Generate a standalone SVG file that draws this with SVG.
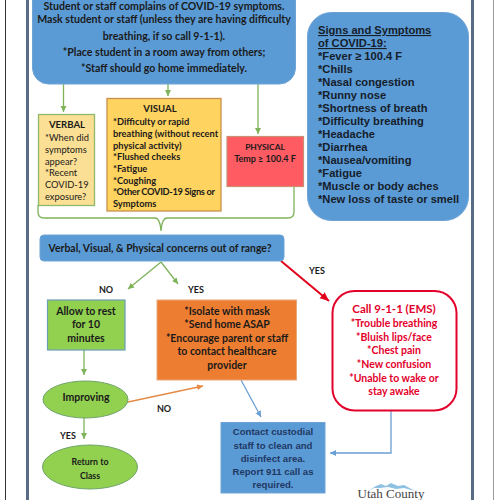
<svg xmlns="http://www.w3.org/2000/svg" width="500" height="500" viewBox="0 0 500 500">
<style>
text{font-family:Lato,"Liberation Sans",sans-serif;font-weight:700;fill:#1a1a1a;text-anchor:middle}
.a{font-family:"Liberation Sans",Arial,sans-serif;text-anchor:start;font-size:11.15px;fill:#15202b}
.t{font-size:10.6px}.s{font-size:9.3px;text-anchor:start}.v{font-weight:400}.m{font-size:10.5px}.h{font-size:9.6px}.y{font-size:9px}
.n{font-family:"Liberation Sans",Arial,sans-serif;font-size:9.6px;fill:#1f3864}
.r{fill:#e3002b;font-size:10.5px}
.c{fill:none}.g{stroke:#7fb35a;stroke-width:1.3}.o{stroke:#e58a45;stroke-width:1.3}.b{stroke:#6a9fd3;stroke-width:1.3}.e{stroke:#e3001b;stroke-width:2}
</style>
<defs>
<marker id="mg" markerUnits="userSpaceOnUse" markerWidth="7" markerHeight="7" refX="6" refY="3" orient="auto"><path d="M0 0L6 3L0 6z" fill="#7fb35a"/></marker>
<marker id="mo" markerUnits="userSpaceOnUse" markerWidth="7" markerHeight="7" refX="6" refY="3" orient="auto"><path d="M0 0L6 3L0 6z" fill="#e58a45"/></marker>
<marker id="mb" markerUnits="userSpaceOnUse" markerWidth="7" markerHeight="7" refX="6" refY="3" orient="auto"><path d="M0 0L6 3L0 6z" fill="#6a9fd3"/></marker>
<marker id="mr" markerUnits="userSpaceOnUse" markerWidth="10" markerHeight="9" refX="9" refY="4" orient="auto"><path d="M0 0L9 4L0 8z" fill="#e3001b"/></marker>
</defs>
<rect width="500" height="500" fill="#fff"/>
<g id="page">
<path d="M5.500 0V500" stroke="#333" stroke-width="1" fill="none"/>
<path d="M27.500 0V500" stroke="#5a6b85" stroke-width="3" fill="none"/>
<path d="M472.500 0V500" stroke="#5a6b85" stroke-width="3" fill="none"/>
<path d="M493.500 0V500" stroke="#999" stroke-width="1" fill="none"/>
</g>
<g id="connectors">
<path class="c g" marker-end="url(#mg)" d="M63.500 84V112"/>
<path class="c g" marker-end="url(#mg)" d="M168 84V96"/>
<path class="c g" marker-end="url(#mg)" d="M258 84V134"/>
<path class="c g" d="M38 205V212Q38 218 44 218H155Q160 218 161 231Q162 218 167 218H288Q294 218 294 212V187"/>
<path class="c g" marker-end="url(#mg)" d="M161 262L128 289"/>
<path class="c g" marker-end="url(#mg)" d="M161 262L178 284"/>
<path class="c g" marker-end="url(#mg)" d="M84 350V375"/>
<path class="c g" marker-end="url(#mg)" d="M84 418V439"/>
<path class="c o" marker-end="url(#mo)" d="M128 402L203 386"/>
<path class="c b" marker-end="url(#mb)" d="M241 380L261 417"/>
<path class="c b" marker-end="url(#mb)" d="M391 411V453H330"/>
<path class="c e" marker-end="url(#mr)" d="M281 261L329 301"/>
</g>
<g id="start"><rect x="32.500" y="-30" width="263" height="114" rx="16" fill="#5b9bd5" stroke="#6fa3d6"/>
<text class="t" x="164" y="9.500">Student or staff complains of COVID-19 symptoms.</text>
<text class="t" x="164" y="23">Mask student or staff (unless they are having difficulty</text>
<text class="t" x="164" y="39.500">breathing, if so call 9-1-1).</text>
<text class="t" x="164" y="56">*Place student in a room away from others;</text>
<text class="t" x="164" y="72">*Staff should go home immediately.</text></g>
<g id="signs"><rect x="307.500" y="12.500" width="161" height="208" rx="24" fill="#5b9bd5" stroke="#6fa3d6"/>
<text class="a" x="318" y="34" text-decoration="underline">Signs and Symptoms</text>
<text class="a" x="318" y="47" text-decoration="underline">of COVID-19:</text>
<text class="a" x="318" y="60">*Fever ≥ 100.4 F</text>
<text class="a" x="318" y="73">*Chills</text>
<text class="a" x="318" y="86">*Nasal congestion</text>
<text class="a" x="318" y="99">*Runny nose</text>
<text class="a" x="318" y="112">*Shortness of breath</text>
<text class="a" x="318" y="125">*Difficulty breathing</text>
<text class="a" x="318" y="138">*Headache</text>
<text class="a" x="318" y="151">*Diarrhea</text>
<text class="a" x="318" y="164">*Nausea/vomiting</text>
<text class="a" x="318" y="177">*Fatigue</text>
<text class="a" x="318" y="190">*Muscle or body aches</text>
<text class="a" x="318" y="203">*New loss of taste or smell</text></g>
<g id="verbal"><rect x="38.500" y="114.500" width="56" height="91" fill="#fbdf94" stroke="#8fbb68" stroke-width="1.300"/>
<text class="h" x="67" y="128">VERBAL</text>
<text class="s v" x="45" y="141">*When did</text>
<text class="s v" x="45" y="152.500">symptoms</text>
<text class="s v" x="45" y="164.500">appear?</text>
<text class="s v" x="45" y="176">*Recent</text>
<text class="s v" x="45" y="187.500">COVID-19</text>
<text class="s v" x="45" y="199.500">exposure?</text></g>
<g id="visual"><rect x="107" y="98.500" width="114" height="112.500" fill="#ffd35f" stroke="#c98f4b" stroke-width="1.300"/>
<text class="h" x="160" y="112">VISUAL</text>
<text class="s" x="113" y="125">*Difficulty or rapid</text>
<text class="s" x="113" y="136.500">breathing (without recent</text>
<text class="s" x="113" y="148.500">physical activity)</text>
<text class="s" x="113" y="160">*Flushed cheeks</text>
<text class="s" x="113" y="171.500">*Fatigue</text>
<text class="s" x="113" y="183.500">*Coughing</text>
<text class="s" x="113" y="195" textLength="102">*Other COVID-19 Signs or</text>
<text class="s" x="113" y="207">Symptoms</text></g>
<g id="physical"><rect x="227" y="136.500" width="76.500" height="50" fill="#ff5b63" stroke="#c98f70" stroke-width="1.200"/>
<text x="265" y="149.500" font-size="8.400">PHYSICAL</text>
<text x="265" y="161.500" font-size="9">Temp ≥ 100.4 F</text></g>
<g id="question"><rect x="40" y="235" width="244" height="26" rx="4" fill="#5b9bd5" stroke="#6fa3d6"/>
<text x="160" y="251.500" font-size="10.450">Verbal, Visual, &amp; Physical concerns out of range?</text></g>
<text class="y" x="106" y="292.500">NO</text>
<text class="y" x="196" y="292.500">YES</text>
<text class="y" x="317" y="274">YES</text>
<text class="y" x="164" y="412">NO</text>
<text class="y" x="68" y="439">YES</text>
<g id="rest"><rect x="47.500" y="300" width="77.500" height="50" fill="#92d050" stroke="#6a9fb5" stroke-width="1.200"/>
<text class="m" x="86" y="314.500">Allow to rest</text>
<text class="m" x="86" y="328">for 10</text>
<text class="m" x="86" y="341.500">minutes</text></g>
<g id="isolate"><rect x="157" y="300" width="139.500" height="80" fill="#ed7d31" stroke="#e9a77c"/>
<text class="m" x="227" y="314.500">*Isolate with mask</text>
<text class="m" x="227" y="328">*Send home ASAP</text>
<text class="m" x="227" y="341.500">*Encourage parent or staff</text>
<text class="m" x="227" y="355">to contact healthcare</text>
<text class="m" x="227" y="369">provider</text></g>
<g id="improving"><ellipse cx="85.500" cy="399.500" rx="42.500" ry="18.500" fill="#92d050" stroke="#6fa36a"/>
<text class="m" x="86" y="401">Improving</text></g>
<g id="return"><ellipse cx="90" cy="467" rx="47.500" ry="22" fill="#92d050" stroke="#6fa36a"/>
<text x="90" y="464.500" font-size="8.800">Return to</text>
<text x="90" y="478.500" font-size="8.800">Class</text></g>
<g id="contact"><rect x="221" y="422.500" width="104" height="70.500" fill="#5b9bd5" stroke="#6fa3d6"/>
<text class="n" x="273" y="435">Contact custodial</text>
<text class="n" x="273" y="448.500">staff to clean and</text>
<text class="n" x="273" y="461.500">disinfect area.</text>
<text class="n" x="273" y="475">Report 911 call as</text>
<text class="n" x="273" y="488">required.</text></g>
<g id="call911"><rect x="332.500" y="291" width="124" height="119.500" rx="22" fill="#fff" stroke="#e3002b" stroke-width="2"/>
<text class="r" x="394" y="313" style="font-size:11.500px">Call 9-1-1 (EMS)</text>
<text class="r" x="394" y="327">*Trouble breathing</text>
<text class="r" x="394" y="340.500">*Bluish lips/face</text>
<text class="r" x="394" y="354">*Chest pain</text>
<text class="r" x="394" y="368">*New confusion</text>
<text class="r" x="394" y="381.500">*Unable to wake or</text>
<text class="r" x="394" y="395">stay awake</text></g>
<g id="logo"><path d="M368 491L376 486L381 484L386 486L391 483L398 486L404 485L415 491L404 488L396 489L388 487L380 488L374 488z" fill="#8fc1e3"/>
<text x="391" y="497.500" font-size="13" style="font-family:'Liberation Serif',serif;font-weight:400;fill:#444">Utah County</text></g>
</svg>
